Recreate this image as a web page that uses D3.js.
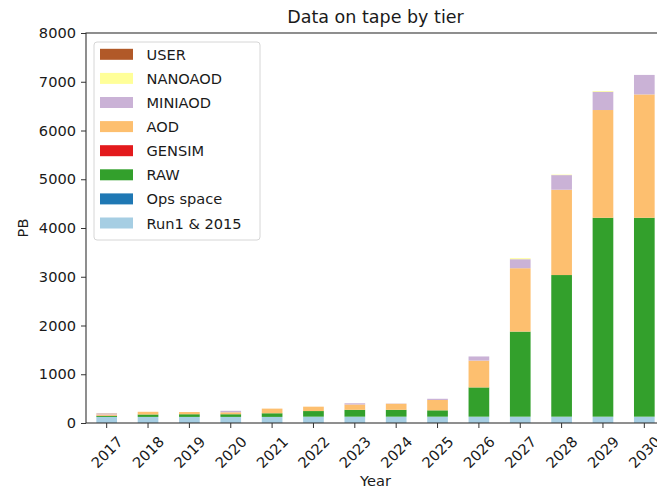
<!DOCTYPE html>
<html>
<head>
<meta charset="utf-8">
<script src="https://cdn.jsdelivr.net/npm/d3@7"></script>
<style>
  html, body { margin: 0; padding: 0; background: #fff; }
  svg { display: block; font-family: "DejaVu Sans", sans-serif; }
</style>
</head>
<body>
<svg id="chart" width="657" height="489"></svg>
<script>
// Tape usage per data tier, in PB, by year
const years = ["2017","2018","2019","2020","2021","2022","2023","2024","2025","2026","2027","2028","2029","2030"];
const run1_2015 = [125, 125, 125, 125, 125, 130, 130, 130, 130, 130, 130, 130, 130, 130];
const opsSpace  = [0, 0, 0, 0, 0, 0, 0, 0, 0, 0, 0, 0, 0, 0];
const raw       = [20, 50, 55, 55, 75, 115, 140, 140, 130, 600, 1745, 2905, 4080, 4080];
const gensim    = [5, 0, 0, 0, 0, 0, 0, 0, 0, 0, 0, 0, 0, 0];
const aod       = [25, 55, 45, 40, 95, 90, 110, 125, 212, 550, 1300, 1750, 2210, 2530];
const miniaod   = [15, 0, 0, 30, 0, 0, 25, 5, 25, 85, 185, 300, 375, 400];
const nanoaod   = [0, 0, 0, 0, 0, 0, 0, 0, 0, 0, 20, 10, 15, 0];
const user      = [5, 0, 0, 0, 0, 0, 0, 0, 0, 0, 0, 0, 0, 0];

const tierNames  = ["Run1 & 2015", "Ops space", "RAW", "GENSIM", "AOD", "MINIAOD", "NANOAOD", "USER"];
const tierValues = [run1_2015, opsSpace, raw, gensim, aod, miniaod, nanoaod, user];
const tierColors = ["#a6cee3", "#1f78b4", "#33a02c", "#e31a1c", "#fdbf6f", "#cab2d6", "#ffff99", "#b15928"];
const yTicks = [0, 1000, 2000, 3000, 4000, 5000, 6000, 7000, 8000];

const svg = d3.select("#chart");
const plotLeft = 86, plotRight = 665, plotTop = 33, plotBottom = 423;
const fs = 14.6;
const textColor = "#1a1a1a";

// rows for the stack layout
const rows = years.map((yr, i) => {
  const r = { year: yr };
  tierNames.forEach((n, k) => { r[n] = tierValues[k][i]; });
  return r;
});
const series = d3.stack().keys(tierNames)(rows);

const x = d3.scaleBand().domain(years).range([plotLeft, plotRight]).paddingInner(0.5).paddingOuter(0.25);
const y = d3.scaleLinear().domain([0, 8000]).range([plotBottom, plotTop]);
const color = d3.scaleOrdinal().domain(tierNames).range(tierColors);

// bars
svg.append("g").selectAll("g").data(series).join("g")
  .attr("fill", d => color(d.key))
  .selectAll("rect").data(d => d).join("rect")
    .attr("x", d => x(d.data.year))
    .attr("width", x.bandwidth())
    .attr("y", d => y(d[1]))
    .attr("height", d => Math.max(0, y(d[0]) - y(d[1])));

// y axis
const yAxis = svg.append("g").attr("transform", `translate(${plotLeft},0)`)
  .call(d3.axisLeft(y).tickValues(yTicks).tickSize(5).tickPadding(5).tickFormat(d3.format("d")));
yAxis.select(".domain").remove();
yAxis.selectAll("line").attr("stroke", "#333");
yAxis.selectAll("text").attr("font-size", fs).attr("fill", textColor).attr("font-family", "DejaVu Sans");

// x axis with rotated labels
const xAxis = svg.append("g").attr("transform", `translate(0,${plotBottom})`)
  .call(d3.axisBottom(x).tickSize(5).tickPadding(0));
xAxis.select(".domain").remove();
xAxis.selectAll("line").attr("stroke", "#333");
xAxis.selectAll("text")
  .attr("font-size", fs).attr("fill", textColor).attr("font-family", "DejaVu Sans")
  .attr("text-anchor", "middle").attr("dy", null).attr("y", null)
  .attr("dominant-baseline", "central")
  .attr("transform", "translate(0,29) rotate(-45)");

// frame
svg.append("rect").attr("x", plotLeft).attr("y", plotTop)
  .attr("width", plotRight - plotLeft).attr("height", plotBottom - plotTop)
  .attr("fill", "none").attr("stroke", "#333").attr("stroke-width", 1.1);

// title and axis labels
svg.append("text").attr("x", (plotLeft + plotRight) / 2).attr("y", 23)
  .attr("text-anchor", "middle").attr("font-size", 17.5).attr("fill", textColor)
  .text("Data on tape by tier");
svg.append("text").attr("x", (plotLeft + plotRight) / 2).attr("y", 486)
  .attr("text-anchor", "middle").attr("font-size", fs).attr("fill", textColor)
  .text("Year");
svg.append("text").attr("transform", `translate(28,${(plotTop + plotBottom) / 2}) rotate(-90)`)
  .attr("text-anchor", "middle").attr("font-size", fs).attr("fill", textColor)
  .text("PB");

// legend, top series first
const legend = svg.append("g");
legend.append("rect").attr("x", 94).attr("y", 42).attr("width", 166).attr("height", 198)
  .attr("rx", 3).attr("fill", "#fff").attr("fill-opacity", 0.8)
  .attr("stroke", "#d6d6d6");
const legendItems = tierNames.slice().reverse();
legendItems.forEach((n, i) => {
  const cy = 54.3 + i * 24.1;
  legend.append("rect").attr("x", 100).attr("y", cy - 5.5).attr("width", 33).attr("height", 11)
    .attr("fill", color(n));
  legend.append("text").attr("x", 146.5).attr("y", cy).attr("dominant-baseline", "central")
    .attr("font-size", fs).attr("fill", textColor).text(n);
});
</script>
</body>
</html>
